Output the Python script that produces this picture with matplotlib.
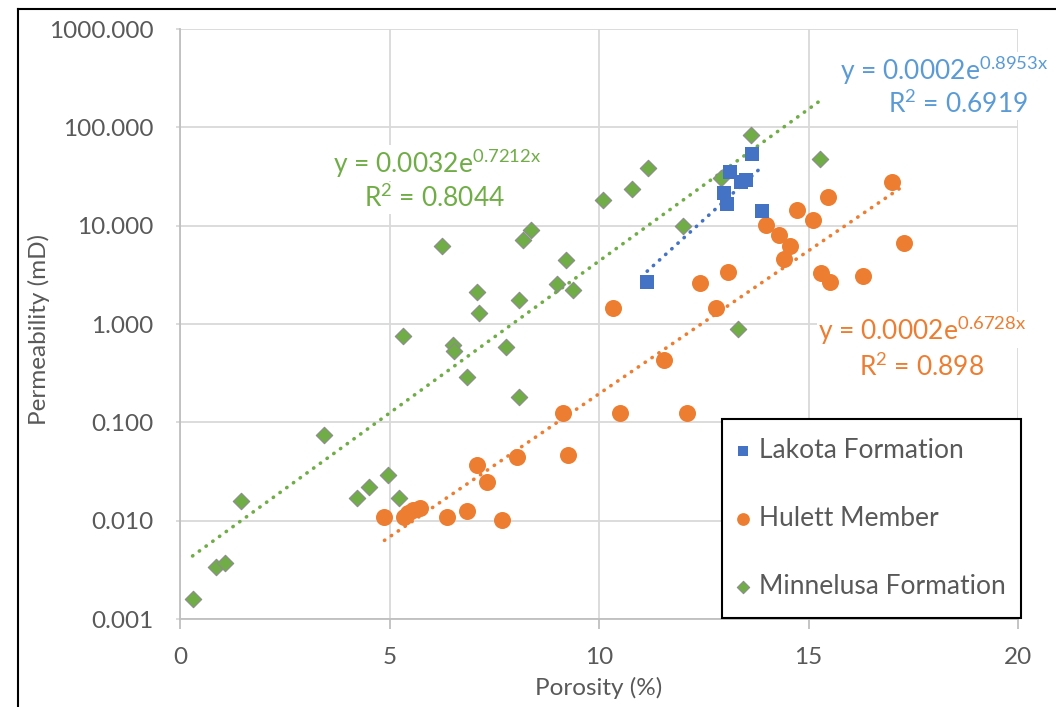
import numpy as np
import matplotlib
matplotlib.use("Agg")
import matplotlib.pyplot as plt
from matplotlib.lines import Line2D

plt.rcParams['font.family'] = ['Lato', 'DejaVu Sans']

# porosity (%) / permeability (mD)
lakota_x = [11.15, 12.99, 13.05, 13.13, 13.38, 13.50, 13.64, 13.89]
lakota_y = [2.67, 21.6, 16.6, 35.3, 28.0, 29.1, 53.0, 14.1]

hulett_x = [4.88, 5.35, 5.45, 5.55, 5.72, 6.37, 6.84, 7.08, 7.32, 7.69, 8.04,
            9.13, 9.27, 10.34, 10.50, 11.55, 12.09, 12.41, 12.79, 13.09,
            13.99, 14.30, 14.42, 14.56, 14.73, 15.10, 15.31, 15.46, 15.51,
            16.31, 16.99, 17.27]
hulett_y = [0.0108, 0.011, 0.012, 0.0128, 0.0136, 0.011, 0.0126, 0.037,
            0.025, 0.0102, 0.0446, 0.123, 0.046, 1.44, 0.125, 0.43, 0.125,
            2.59, 1.46, 3.4, 10.1, 8.0, 4.54, 6.25, 14.6, 11.3, 3.27, 19.4,
            2.69, 3.07, 28.0, 6.7]

minne_x = [0.30, 0.86, 1.07, 1.45, 3.44, 4.23, 4.51, 4.97, 5.23, 5.33, 6.26,
           6.51, 6.54, 6.84, 7.10, 7.14, 7.78, 8.09, 8.10, 8.19, 8.38, 9.00,
           9.21, 9.39, 10.09, 10.78, 11.16, 12.00, 12.90, 13.31, 13.63, 15.27]
minne_y = [0.0016, 0.0034, 0.0037, 0.016, 0.075, 0.017, 0.022, 0.029, 0.017,
           0.75, 6.25, 0.61, 0.53, 0.29, 2.13, 1.30, 0.58, 0.18, 1.75, 7.1,
           9.0, 2.53, 4.47, 2.21, 18.2, 23.6, 38.5, 10.0, 30.7, 0.89, 83.6,
           47.2]

series_names = ["Lakota Formation", "Hulett Member", "Minnelusa Formation"]
eq_labels = [("y = 0.0002e$^{\\mathregular{0.8953x}}$", "R$^{\\mathregular{2}}$ = 0.6919"),
             ("y = 0.0002e$^{\\mathregular{0.6728x}}$", "R$^{\\mathregular{2}}$ = 0.898"),
             ("y = 0.0032e$^{\\mathregular{0.7212x}}$", "R$^{\\mathregular{2}}$ = 0.8044")]

blue = "#4472C4"
orange = "#ED7D31"
green = "#70AD47"
txtgray = "#595959"
grid = "#D9D9D9"

W, H = 1056, 707
fig = plt.figure(figsize=(W / 100, H / 100), dpi=100)
ax = fig.add_axes([180 / W, 1 - 619 / H, 838 / W, 590 / H])

# outer chart frame (cropped at right / bottom)
fig.add_artist(Line2D([18 / W, 18 / W], [0, 1 - 9 / H], color="black", lw=1.5,
                      transform=fig.transFigure))
fig.add_artist(Line2D([18 / W, 1], [1 - 9 / H, 1 - 9 / H], color="black", lw=1.5,
                      transform=fig.transFigure))


def trend(xs, ys, color):
    xs = np.array(xs)
    b, a = np.polyfit(xs, np.log(ys), 1)
    xx = np.linspace(xs.min(), xs.max(), 100)
    ax.plot(xx, np.exp(a) * np.exp(b * xx), color=color, lw=2.6,
            linestyle=(0, (0.1, 2.2)), dash_capstyle="round", zorder=2)


trend(minne_x, minne_y, green)
trend(hulett_x, hulett_y, orange)
trend(lakota_x, lakota_y, blue)

ax.scatter(minne_x, minne_y, marker="D", s=70, color=green, edgecolor="#8c8c8c",
           linewidth=0.8, zorder=3, label=series_names[2])
ax.scatter(hulett_x, hulett_y, marker="o", s=150, color=orange, linewidth=0,
           zorder=3, label=series_names[1])
ax.scatter(lakota_x, lakota_y, marker="s", s=110, color=blue, linewidth=0,
           zorder=4, label=series_names[0])

ax.set_yscale("log")
ax.set_xlim(0, 20)
ax.set_ylim(0.001, 1000)
ax.set_xticks([0, 5, 10, 15, 20])
ax.set_yticks([0.001, 0.01, 0.1, 1, 10, 100, 1000])
ax.set_yticklabels(["0.001", "0.010", "0.100", "1.000", "10.000", "100.000",
                    "1000.000"])
ax.minorticks_off()
ax.grid(True, color=grid, lw=1.3)
ax.set_axisbelow(True)
for s in ["top", "right"]:
    ax.spines[s].set_visible(False)
for s in ["left", "bottom"]:
    ax.spines[s].set_color("#BFBFBF")
    ax.spines[s].set_linewidth(1.3)
ax.tick_params(axis="x", length=7, color="#BFBFBF", width=1.3, labelsize=17.5,
               labelcolor=txtgray, pad=13)
ax.tick_params(axis="y", length=3, color=grid, width=1.3, labelsize=17.5,
               labelcolor=txtgray, pad=16)
ax.set_xlabel("Porosity (%)", fontsize=17.5, color=txtgray)
ax.set_ylabel("Permeability (mD)", fontsize=17.5, color=txtgray)
ax.xaxis.set_label_coords(0.5, -0.098)
ax.yaxis.set_label_coords(-0.155, 0.49)

# legend
hs, ls = ax.get_legend_handles_labels()
order = [2, 1, 0]
leg = ax.legend([hs[i] for i in order], [ls[i] for i in order],
                loc="lower left", bbox_to_anchor=(0.647, 0.002, 0.357, 0.342),
                mode="expand", borderaxespad=0, fontsize=19, labelspacing=1.64,
                borderpad=0.7, handletextpad=0.5, handlelength=0.2,
                markerscale=0.75, fancybox=False, framealpha=1,
                edgecolor="black", labelcolor=txtgray)
leg.get_frame().set_linewidth(1.5)
leg.set_zorder(5)

# trendline equations
box = dict(facecolor="white", edgecolor="none", pad=1)
pos = [((840, 70), (958, 104), "#5B9BD5"),
       ((922, 330), (922, 367), orange),
       ((437, 163), (435, 198), green)]
for (eq, r2), (p1, p2, c) in zip(eq_labels, pos):
    ha = "left" if p1[0] == 840 else "center"
    fig.text(p1[0] / W, 1 - p1[1] / H, eq, fontsize=19, color=c, ha=ha,
             va="center", bbox=box, zorder=6)
    fig.text(p2[0] / W, 1 - p2[1] / H, r2, fontsize=19, color=c, ha="center",
             va="center", bbox=box, zorder=6)

fig.savefig("out.png", dpi=100)
